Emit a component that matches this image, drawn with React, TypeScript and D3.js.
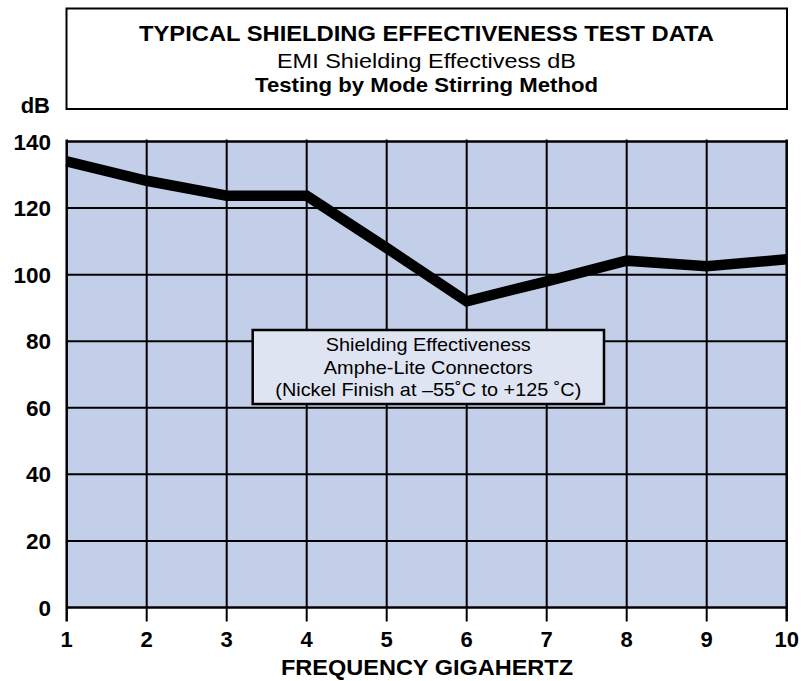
import React from "react";
import * as d3 from "d3";

const freqs = [1, 2, 3, 4, 5, 6, 7, 8, 9, 10];
const dbValues = [134, 128.2, 123.7, 123.7, 108, 92, 98, 104.2, 102.5, 104.6];
const yTicks = [0, 20, 40, 60, 80, 100, 120, 140];
const xTicks = [1, 2, 3, 4, 5, 6, 7, 8, 9, 10];
const titleLines = [
  "TYPICAL SHIELDING EFFECTIVENESS TEST DATA",
  "EMI Shielding Effectivess dB",
  "Testing by Mode Stirring Method",
];
const legendLines = [
  "Shielding Effectiveness",
  "Amphe-Lite Connectors",
  "(Nickel Finish at \u201355\u02DAC to +125 \u02DAC)",
];
const xTitle = "FREQUENCY GIGAHERTZ";
const yTitle = "dB";

const FONT = "'Liberation Sans', Arial, Helvetica, sans-serif";

export default function App() {
  const x = d3.scaleLinear().domain([1, 10]).range([66.7, 786.7]);
  const y = d3.scaleLinear().domain([0, 140]).range([607.5, 141.5]);
  const line = d3
    .line<number>()
    .x((_, i) => x(freqs[i]))
    .y((d) => y(d));

  const left = x(1);
  const right = x(10);
  const top = y(140);
  const bottom = y(0);

  return (
    <svg
      width={809}
      height={681}
      style={{ position: "absolute", left: 0, top: 0, background: "#fff" }}
      fontFamily={FONT}
    >
      {/* Title box */}
      <rect x={66.5} y={8.5} width={720.5} height={100.5} fill="#fff" stroke="#000" strokeWidth={2} />
      <text x={426.5} y={41} textAnchor="middle" fontWeight="bold" fontSize={21.5} textLength={575} lengthAdjust="spacingAndGlyphs">
        {titleLines[0]}
      </text>
      <text x={426.5} y={67.5} textAnchor="middle" fontSize={19.5} textLength={299} lengthAdjust="spacingAndGlyphs">
        {titleLines[1]}
      </text>
      <text x={426.5} y={91.5} textAnchor="middle" fontWeight="bold" fontSize={21} textLength={343} lengthAdjust="spacingAndGlyphs">
        {titleLines[2]}
      </text>

      {/* y title */}
      <text x={50} y={113} textAnchor="end" fontWeight="bold" fontSize={22}>
        {yTitle}
      </text>

      {/* plot background */}
      <rect x={left} y={top} width={right - left} height={bottom - top} fill="#c3cee9" />

      {/* horizontal grid */}
      {yTicks.map((t) => (
        <line key={"h" + t} x1={left} x2={right} y1={y(t)} y2={y(t)} stroke="#000" strokeWidth={t === 0 || t === 140 ? 2.5 : 2} />
      ))}
      {/* vertical grid + ticks */}
      {xTicks.map((t) => (
        <line key={"v" + t} x1={x(t)} x2={x(t)} y1={top - 2} y2={bottom + 14} stroke="#000" strokeWidth={t === 1 || t === 10 ? 2.5 : 2} />
      ))}

      {/* data line */}
      <path d={line(dbValues) || ""} fill="none" stroke="#000" strokeWidth={10.5} strokeLinejoin="miter" strokeLinecap="butt" />

      {/* legend box */}
      <rect x={252.7} y={330} width={351.3} height={74} fill="#dfe4f2" stroke="#000" strokeWidth={2.5} />
      <text x={428.3} y={350.7} textAnchor="middle" fontSize={19} textLength={205} lengthAdjust="spacingAndGlyphs">
        {legendLines[0]}
      </text>
      <text x={428.3} y={373.7} textAnchor="middle" fontSize={19} textLength={209} lengthAdjust="spacingAndGlyphs">
        {legendLines[1]}
      </text>
      <text x={428.3} y={396} textAnchor="middle" fontSize={19} textLength={306} lengthAdjust="spacingAndGlyphs">
        {legendLines[2]}
      </text>

      {/* y tick labels */}
      {yTicks.map((t) => (
        <text key={"yl" + t} x={51} y={y(t) + 8} textAnchor="end" fontWeight="bold" fontSize={22.5}>
          {t}
        </text>
      ))}
      {/* x tick labels */}
      {xTicks.map((t) => (
        <text key={"xl" + t} x={x(t)} y={646.7} textAnchor="middle" fontWeight="bold" fontSize={22}>
          {t}
        </text>
      ))}
      <text x={427} y={675} textAnchor="middle" fontWeight="bold" fontSize={22} textLength={292} lengthAdjust="spacingAndGlyphs">
        {xTitle}
      </text>
    </svg>
  );
}
